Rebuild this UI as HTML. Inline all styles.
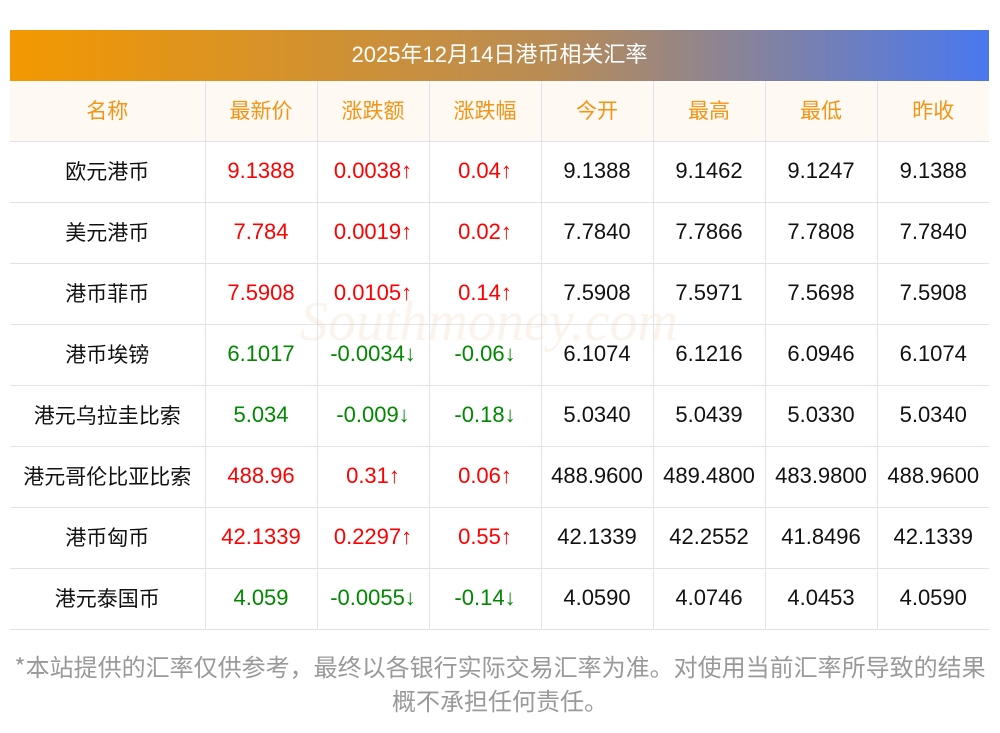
<!DOCTYPE html><html><head><meta charset="utf-8"><style>
body{margin:0;background:#fff;width:1000px;height:733px;overflow:hidden;font-family:"Liberation Sans","Noto Sans CJK SC",sans-serif;position:relative}
.bar{position:absolute;left:10px;top:30px;width:979px;height:51px;background:linear-gradient(90deg,#f39800,#b98c55 55%,#4a78f0);color:#fff;font-size:22px;text-align:center;line-height:49px}
table{position:absolute;left:10px;top:81px;border-collapse:collapse;width:979px;table-layout:fixed}
td{border:1px solid #e2e2ea;height:57px;text-align:center;font-size:22px;line-height:26px;color:#111;padding:0 0 3px 0;white-space:nowrap}
.c{font-family:"Noto Sans CJK SC",sans-serif;font-size:21px}
tr td:first-child{border-left:none}tr td:last-child{border-right:none}
tr:first-child td{border-top:none;background:#fff9f3;color:#f39414;font-family:"Noto Sans CJK SC",sans-serif;font-size:21px}
.r{color:#f00}.g{color:#080}
.wm{position:absolute;left:300px;top:290px;font-size:56px;color:rgba(240,210,180,.25);font-family:"Liberation Serif",serif;font-style:italic}
.f{position:absolute;left:0;top:649px;width:1000px;text-align:center;color:#999;font-size:24px;line-height:34px;font-family:"Noto Sans CJK SC",sans-serif}
</style></head><body>
<div class="bar">2025年12月14日港币相关汇率</div>
<table>
<colgroup><col style="width:195px"><col style="width:112px"><col style="width:112px"><col style="width:112px"><col style="width:112px"><col style="width:112px"><col style="width:112px"><col style="width:112px"></colgroup>
<tr><td>名称</td><td>最新价</td><td>涨跌额</td><td>涨跌幅</td><td>今开</td><td>最高</td><td>最低</td><td>昨收</td></tr>
<tr><td class="c">欧元港币</td><td class="r">9.1388</td><td class="r">0.0038↑</td><td class="r">0.04↑</td><td>9.1388</td><td>9.1462</td><td>9.1247</td><td>9.1388</td></tr>
<tr><td class="c">美元港币</td><td class="r">7.784</td><td class="r">0.0019↑</td><td class="r">0.02↑</td><td>7.7840</td><td>7.7866</td><td>7.7808</td><td>7.7840</td></tr>
<tr><td class="c">港币菲币</td><td class="r">7.5908</td><td class="r">0.0105↑</td><td class="r">0.14↑</td><td>7.5908</td><td>7.5971</td><td>7.5698</td><td>7.5908</td></tr>
<tr><td class="c">港币埃镑</td><td class="g">6.1017</td><td class="g">-0.0034↓</td><td class="g">-0.06↓</td><td>6.1074</td><td>6.1216</td><td>6.0946</td><td>6.1074</td></tr>
<tr><td class="c">港元乌拉圭比索</td><td class="g">5.034</td><td class="g">-0.009↓</td><td class="g">-0.18↓</td><td>5.0340</td><td>5.0439</td><td>5.0330</td><td>5.0340</td></tr>
<tr><td class="c">港元哥伦比亚比索</td><td class="r">488.96</td><td class="r">0.31↑</td><td class="r">0.06↑</td><td>488.9600</td><td>489.4800</td><td>483.9800</td><td>488.9600</td></tr>
<tr><td class="c">港币匈币</td><td class="r">42.1339</td><td class="r">0.2297↑</td><td class="r">0.55↑</td><td>42.1339</td><td>42.2552</td><td>41.8496</td><td>42.1339</td></tr>
<tr><td class="c">港元泰国币</td><td class="g">4.059</td><td class="g">-0.0055↓</td><td class="g">-0.14↓</td><td>4.0590</td><td>4.0746</td><td>4.0453</td><td>4.0590</td></tr>
</table>
<div class="wm">Southmoney.com</div>
<div class="f">*本站提供的汇率仅供参考，最终以各银行实际交易汇率为准。对使用当前汇率所导致的结果<br>概不承担任何责任。</div>
</body></html>
